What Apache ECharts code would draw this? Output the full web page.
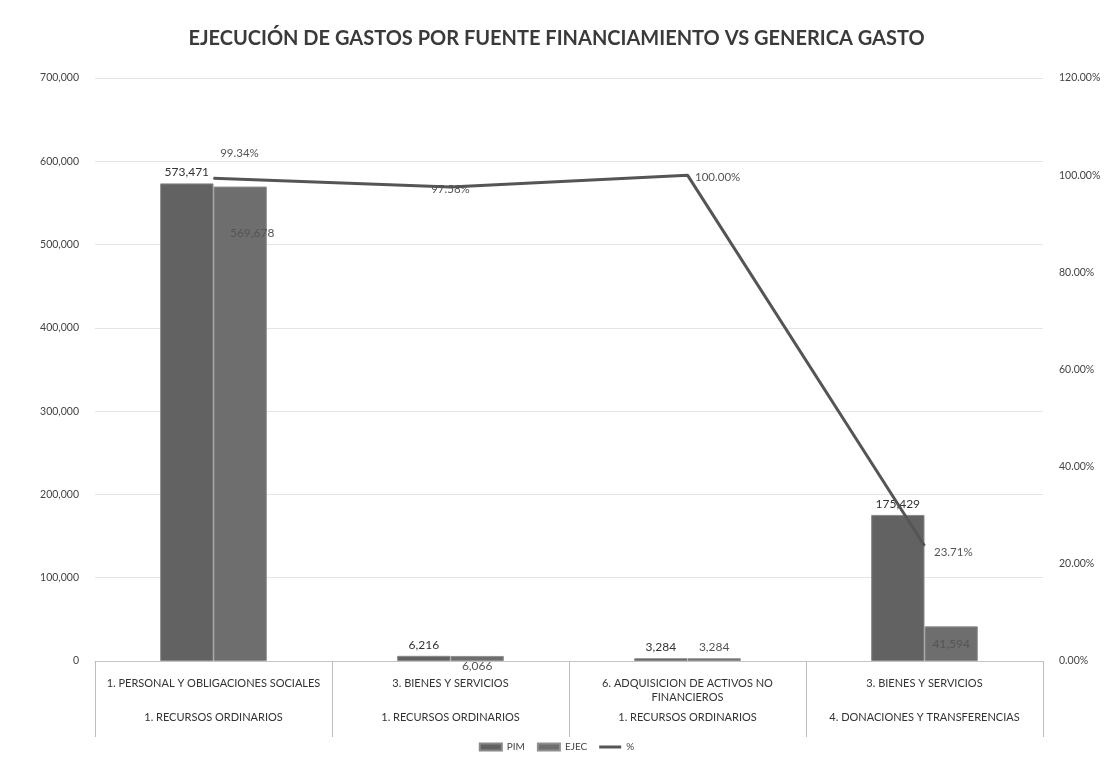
<!DOCTYPE html>
<html>
<head>
<meta charset="utf-8">
<script src="https://cdn.jsdelivr.net/npm/echarts@6/dist/echarts.min.js"></script>
<style>
  html, body { margin: 0; padding: 0; background: #fff; }
  #chart-container { width: 1113px; height: 771px; }
</style>
</head>
<body>
<div id="chart-container"></div>
<script>
  // values
  const genericas = [
    '1. PERSONAL Y OBLIGACIONES SOCIALES',
    '3. BIENES Y SERVICIOS',
    '6. ADQUISICION DE ACTIVOS NO\nFINANCIEROS',
    '3. BIENES Y SERVICIOS'
  ];
  const fuentes = [
    '1. RECURSOS ORDINARIOS',
    '1. RECURSOS ORDINARIOS',
    '1. RECURSOS ORDINARIOS',
    '4. DONACIONES Y TRANSFERENCIAS'
  ];
  const pim = [573471, 6216, 3284, 175429];
  const ejec = [569678, 6066, 3284, 41594];
  const pct = [99.34, 97.58, 100.0, 23.71];

  const font = 'Lato, "Open Sans", sans-serif';
  const fmtNum = (v) => v.toLocaleString('en-US');

  // EJEC labels were moved around by hand in the original
  const ejecLabelPos = [
    { position: 'insideTop', offset: [12, 36] },
    { position: 'bottom', offset: [0, -6] },
    { position: 'top', offset: [0, 0] },
    { position: 'inside', offset: [0, 0] }
  ];
  const pctLabelPos = [
    { position: 'top', offset: [26, -14] },
    { position: 'inside', offset: [0, 2] },
    { position: 'right', offset: [2, 2] },
    { position: 'right', offset: [4, 6] }
  ];

  const chart = echarts.init(document.getElementById('chart-container'));

  const option = {
    backgroundColor: '#fff',
    animation: false,
    textStyle: { fontFamily: font },
    title: {
      text: 'EJECUCIÓN DE GASTOS POR FUENTE FINANCIAMIENTO VS GENERICA GASTO',
      left: 'center',
      top: 24,
      textStyle: { fontSize: 20, fontWeight: 'bold', color: '#3a3a3a', fontFamily: font }
    },
    legend: {
      bottom: 14,
      left: 'center',
      itemWidth: 22,
      itemHeight: 7,
      itemGap: 12,
      textStyle: { fontSize: 10, color: '#444' },
      data: [
        { name: 'PIM', icon: 'rect' },
        { name: 'EJEC', icon: 'rect' },
        { name: '%', icon: 'path://M0,0 L22,0 L22,3 L0,3 Z' }
      ]
    },
    grid: { left: 95, right: 70, top: 78, bottom: 110 },
    xAxis: {
      type: 'category',
      data: genericas,
      axisLine: { lineStyle: { color: '#c4c4c4' } },
      axisTick: { show: true, length: 76, lineStyle: { color: '#bdbdbd', width: 1 } },
      axisLabel: {
        interval: 0,
        margin: 15,
        verticalAlign: 'top',
        formatter: (val, idx) => {
          const lines = val.split('\n');
          if (lines.length < 2) lines.push(' ');
          return lines.map((l) => '{a|' + l + '}').join('\n') + '\n{b|' + fuentes[idx] + '}';
        },
        rich: {
          a: { fontSize: 11, lineHeight: 14, color: '#333', fontFamily: font },
          b: { fontSize: 11, lineHeight: 26, color: '#333', fontFamily: font }
        }
      }
    },
    yAxis: [
      {
        type: 'value',
        min: 0,
        max: 700000,
        interval: 100000,
        axisLine: { show: false },
        axisTick: { show: false },
        axisLabel: { formatter: (v) => fmtNum(v), color: '#444', fontSize: 10.5, margin: 16 },
        splitLine: { lineStyle: { color: '#e4e4e4' } }
      },
      {
        type: 'value',
        min: 0,
        max: 120,
        interval: 20,
        axisLine: { show: false },
        axisTick: { show: false },
        axisLabel: { formatter: (v) => v.toFixed(2) + '%', color: '#444', fontSize: 10.5, margin: 16 },
        splitLine: { show: false }
      }
    ],
    series: [
      {
        name: 'PIM',
        type: 'bar',
        barGap: '0%',
        barCategoryGap: '55%',
        itemStyle: { color: '#626262', borderColor: '#888', borderWidth: 1 },
        label: {
          show: true,
          position: 'top',
          formatter: (p) => fmtNum(p.value),
          fontSize: 12,
          color: '#333'
        },
        data: pim
      },
      {
        name: 'EJEC',
        type: 'bar',
        itemStyle: { color: '#6e6e6e', borderColor: '#8f8f8f', borderWidth: 1 },
        label: {
          show: true,
          formatter: (p) => fmtNum(p.value),
          fontSize: 12,
          color: '#555'
        },
        data: ejec.map((v, i) => ({ value: v, label: ejecLabelPos[i] }))
      },
      {
        name: '%',
        type: 'line',
        yAxisIndex: 1,
        symbol: 'circle',
        symbolSize: 1,
        showSymbol: true,
        lineStyle: { color: '#555', width: 3 },
        itemStyle: { color: '#555' },
        label: {
          show: true,
          formatter: (p) => p.value.toFixed(2) + '%',
          fontSize: 11.5,
          color: '#555'
        },
        data: pct.map((v, i) => ({ value: v, label: pctLabelPos[i] }))
      }
    ]
  };

  chart.setOption(option);
</script>
</body>
</html>
